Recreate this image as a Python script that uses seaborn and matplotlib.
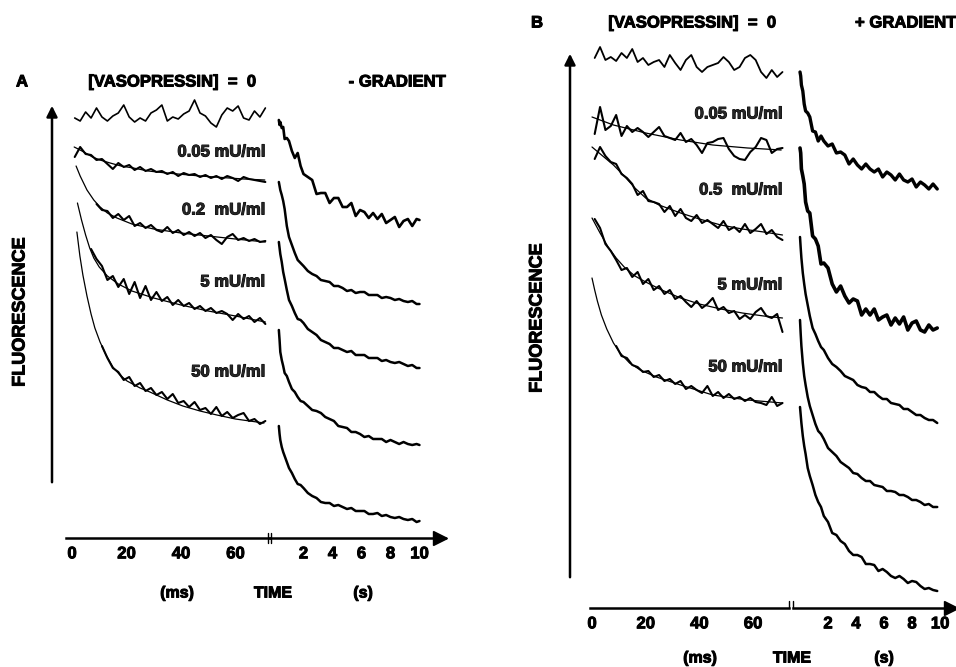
import numpy as np
import matplotlib
matplotlib.use("Agg")
import matplotlib.pyplot as plt
import matplotlib.patheffects as pe
import seaborn as sns

nan = np.nan

# ---------------- time grids ----------------
t_ms = [1, 3, 5, 7, 9, 11, 13, 15, 17, 19, 21, 23, 25, 27, 29, 31, 33, 35,
        37, 39, 41, 43, 45, 47, 49, 51, 53, 55, 57, 59, 61, 63, 65, 67, 69, 71]
tA_s = [0.3, 0.35, 0.4, 0.5, 0.6, 0.7, 0.85, 1.0, 1.2, 1.4, 1.6, 1.8, 2.0, 2.3,
        2.6, 2.9, 3.2, 3.5, 3.8, 4.1, 4.4, 4.7, 5.0, 5.3, 5.6, 5.9, 6.2, 6.5,
        6.8, 7.1, 7.4, 7.7, 8.0, 8.3, 8.6, 8.9, 9.2, 9.5, 9.8, 10.0]
tB_s = [0.0, 0.05, 0.1, 0.2, 0.3, 0.4, 0.55, 0.7, 0.9, 1.1, 1.3, 1.5, 1.7, 2.0,
        2.3, 2.6, 2.9, 3.2, 3.5, 3.8, 4.1, 4.4, 4.7, 5.0, 5.3, 5.6, 5.9, 6.2,
        6.5, 6.8, 7.1, 7.4, 7.7, 8.0, 8.3, 8.6, 8.9, 9.2, 9.5, 9.8]

# ---------------- panel A (- gradient), fluorescence in arb. units ----------------
A_ms_0 = [420, 417, 426, 420, 430, 421, 417, 422, 425, 433, 421, 416, 420, 417, 425, 428, 433, 417,
          421, 419, 424, 427, 438, 425, 422, 415, 411, 423, 430, 427, 432, 420, 418, 427, 421, 430]
A_ms_005 = [381, 391, 384, 383, 378, 379, 374, 369, 375, 371, 373, 368, 371, 367, 369, 366, 367, 364,
            366, 362, 365, 363, 364, 361, 363, 360, 362, 359, 362, 360, 357, 361, 359, 358, 357, 356]
A_ms_02 = [nan, nan, nan, nan, 334, 328, 327, 320, 324, 318, 322, 312, 315, 310, 313, 308, 306, 311,
           305, 308, 303, 306, 302, 305, 300, 303, 298, 294, 301, 304, 298, 300, 297, 299, 296, 297]
A_ms_5 = [nan, nan, nan, 289, 279, 272, 258, 262, 251, 259, 244, 256, 240, 252, 238, 246, 237, 241,
          233, 238, 232, 235, 229, 232, 227, 230, 225, 227, 224, 218, 224, 219, 222, 216, 220, 214]
A_ms_50 = [nan, nan, nan, nan, nan, 192, 180, 170, 166, 158, 161, 152, 155, 147, 150, 143, 146, 139,
           144, 135, 137, 131, 136, 128, 130, 124, 131, 122, 126, 120, 123, 125, 117, 119, 114, 117]

A_fit_005_t = [0.8, 3, 5, 7.5, 10.3, 14, 18, 22.5, 28, 34.7, 41, 47, 55, 63, 70.8]
A_fit_005 = [391, 388, 385, 381, 378, 375, 372, 370, 367, 365, 363.5, 362, 360.5, 359, 358]
A_fit_02_t = [1.5, 3, 5.5, 8, 10.3, 13, 16.5, 22, 30, 40, 50, 60, 71]
A_fit_02 = [372, 362, 348, 338, 331, 325, 320, 314, 309, 305, 302, 299, 296]
A_fit_5_t = [2, 3.5, 5, 6.5, 8, 10, 13, 17, 22, 30, 40, 50, 60, 71]
A_fit_5 = [335, 318, 303, 290, 280, 271, 262, 254, 247, 240, 233, 227, 222, 216]
A_fit_50_t = [1.8, 2.9, 4, 5.5, 7, 8.4, 10.3, 12.5, 15, 17.6, 20.2, 25, 28.6, 35, 40.7, 47, 53.2, 60, 70.5]
A_fit_50 = [306, 282, 263, 242, 224, 210, 196, 183, 171, 163, 157, 150, 146, 138, 132, 127, 123, 119, 115]

A_s_0 = [418, 413, 416, 410, 411, 399, 400, 397, 387, 380, 385, 372, 364, 361, 358, 344, 345, 345, 335, 340,
         340, 331, 331, 335, 322, 328, 326, 320, 325, 319, 324, 315, 318, 321, 311, 317, 319, 312, 319, 318]
A_s_005 = [356, 352, 348, 343, 337, 329, 312, 301, 293, 285, 278, 275, 272, 267, 264, 262, 258, 257, 256, 252,
           252, 250, 247, 248, 245, 246, 246, 243, 243, 243, 240, 241, 240, 238, 239, 237, 236, 237, 234, 234]
A_s_02 = [296, 290, 284, 276, 266, 259, 248, 238, 232, 225, 219, 218, 215, 209, 206, 203, 198, 196, 194, 190,
          190, 188, 186, 187, 183, 183, 183, 180, 180, 180, 177, 178, 176, 175, 176, 174, 172, 173, 170, 170]
A_s_5 = [208, 198, 186, 178, 172, 165, 162, 156, 149, 146, 141, 137, 136, 132, 128, 127, 125, 121, 119, 117,
         112, 111, 110, 106, 106, 104, 101, 102, 99, 99, 99, 96, 98, 96, 94, 96, 94, 93, 94, 93]
A_s_50 = [112, 104, 98, 91, 86, 82, 76, 70, 65, 59, 54, 53, 50, 45, 42, 40, 36, 35, 35, 32,
          33, 31, 29, 30, 27, 27, 27, 24, 24, 25, 22, 23, 21, 20, 21, 19, 18, 19, 16, 17]

# ---------------- panel B (+ gradient) ----------------
B_ms_0 = [550, 561, 548, 551, 547, 555, 550, 559, 546, 550, 543, 546, 548, 541, 553, 545, 538, 548,
          553, 541, 536, 541, 543, 545, 551, 546, 538, 541, 550, 553, 548, 536, 530, 538, 531, 536]
B_ms_005 = [474, 501, 478, 482, 493, 472, 482, 476, 480, 476, 471, 476, 481, 472, 470, 468, 475, 466,
            469, 463, 455, 465, 466, 469, 470, 459, 452, 449, 448, 456, 461, 470, 468, 455, 459, 460]
B_ms_05 = [449, 461, 452, 446, 444, 434, 430, 424, 413, 417, 407, 406, 404, 396, 402, 392, 399, 390,
           387, 393, 385, 388, 384, 380, 387, 378, 381, 376, 384, 375, 379, 384, 374, 378, 371, 368]
B_ms_5 = [389, 380, 364, 357, 348, 338, 340, 331, 336, 324, 329, 318, 322, 314, 318, 309, 312, 306,
          301, 307, 300, 304, 310, 298, 301, 295, 297, 289, 293, 289, 296, 300, 292, 290, 294, 276]
B_ms_50 = [nan, nan, nan, nan, 262, 252, 250, 243, 241, 236, 237, 231, 233, 227, 229, 224, 227, 219,
           222, 218, 215, 222, 212, 216, 210, 214, 209, 211, 207, 210, 206, 205, 203, 211, 202, 205]

B_fit_005_t = [0, 8, 20, 33, 45, 58, 70.5]
B_fit_005 = [491, 483, 475, 468, 463, 460, 458]
B_fit_05_t = [0, 4, 8, 12, 16, 20, 25, 33, 40, 48, 56, 64, 71]
B_fit_05 = [461, 452, 443, 432, 420, 410, 403, 395, 389, 383, 379, 376, 373]
B_fit_5_t = [0, 3, 6, 9, 12, 16, 20, 26, 33, 40, 48, 56, 64, 71]
B_fit_5 = [390, 375, 361, 350, 341, 332, 326, 318, 310, 304, 299, 295, 292, 290]
B_fit_50_t = [0, 1, 2, 3.5, 5.5, 8, 10.5, 14, 18, 24, 33, 45, 58, 71]
B_fit_50 = [330, 318, 307, 293, 279, 265, 255, 245, 238, 231, 223, 213, 208, 205]

B_s_0 = [536, 532, 523, 517, 504, 497, 495, 491, 477, 476, 467, 472, 467, 462, 464, 455, 456, 453, 444, 449,
         443, 439, 444, 439, 436, 439, 431, 436, 433, 428, 434, 428, 426, 429, 421, 426, 423, 419, 424, 419]
B_s_005 = [460, 455, 439, 432, 424, 406, 397, 395, 372, 369, 362, 344, 345, 340, 324, 316, 322, 312, 305, 309,
           307, 293, 299, 293, 299, 288, 291, 293, 283, 290, 284, 291, 278, 285, 287, 278, 276, 283, 278, 280]
B_s_05 = [371, 360, 350, 335, 324, 314, 303, 292, 280, 274, 267, 261, 258, 250, 244, 241, 237, 232, 230, 228,
          223, 221, 220, 216, 216, 212, 209, 209, 205, 204, 203, 199, 199, 196, 193, 193, 190, 188, 188, 185]
B_s_5 = [288, 274, 262, 245, 232, 223, 211, 202, 193, 184, 177, 174, 169, 160, 156, 152, 146, 143, 140, 135,
         134, 130, 127, 127, 123, 122, 121, 117, 117, 116, 113, 113, 111, 108, 108, 106, 103, 104, 101, 101]
B_s_50 = [201, 193, 185, 172, 162, 154, 140, 132, 123, 113, 106, 101, 92, 86, 75, 73, 67, 64, 57, 53,
          53, 51, 44, 44, 43, 37, 39, 36, 32, 30, 32, 29, 25, 27, 26, 22, 19, 20, 18, 17]

ms_ticks = [0, 20, 40, 60]
s_ticks = [2, 4, 6, 8, 10]

A_labels = ["0.05 mU/ml", "0.2  mU/ml", "5 mU/ml", "50 mU/ml"]
A_label_y = [386, 328, 256, 166]
B_labels = ["0.05 mU/ml", "0.5  mU/ml", "5 mU/ml", "50 mU/ml"]
B_label_y = [494, 418, 323, 241]

# ---------------- figure ----------------
sns.set_style("white")
plt.rcParams["font.family"] = ["Liberation Sans", "DejaVu Sans"]
plt.rcParams["font.weight"] = "bold"

W, H = 956, 667
fig = plt.figure(figsize=(W / 100, H / 100), dpi=100)
heavy = [pe.withStroke(linewidth=0.7, foreground="black")]


def px_axes(x0, x1, ytop, ybot):
    # axes placed with pixel edges (y measured from top)
    ax = fig.add_axes([x0 / W, 1 - ybot / H, (x1 - x0) / W, (ybot - ytop) / H])
    ax.set_facecolor("none")
    for s in ["top", "right", "left"]:
        ax.spines[s].set_visible(False)
    ax.spines["bottom"].set_linewidth(1.8)
    ax.spines["bottom"].set_color("black")
    ax.tick_params(axis="x", direction="in", length=4, width=1.2, pad=6,
                   labelsize=12, colors="black")
    ax.set_yticks([])
    ax.set_xlabel("")
    ax.set_ylabel("")
    return ax


def trace(ax, t, v, lw):
    sns.lineplot(x=t, y=v, ax=ax, color="black", lw=lw, estimator=None,
                 sort=False, legend=False)


def fig_text(x, y, s, **kw):
    fig.text(x / W, 1 - y / H, s, fontweight="bold", color="black",
             path_effects=heavy, **kw)


# ----- panel A -----
axA_ms = px_axes(66, 270, 98, 538)
axA_s = px_axes(270, 445, 98, 538)
for ax in (axA_ms, axA_s):
    ax.set_ylim(0, 440)
axA_ms.set_xlim(-2.2, 72.7)
axA_s.set_xlim(-0.31, 11.76)

trace(axA_ms, t_ms, A_ms_0, 1.2)
for tt, vv in [(A_fit_005_t, A_fit_005), (A_fit_02_t, A_fit_02),
               (A_fit_5_t, A_fit_5), (A_fit_50_t, A_fit_50)]:
    trace(axA_ms, tt, vv, 0.9)
for vv in [A_ms_005, A_ms_02, A_ms_5, A_ms_50]:
    trace(axA_ms, t_ms, vv, 1.5)
trace(axA_s, tA_s, A_s_0, 1.9)
for vv in [A_s_005, A_s_02, A_s_5, A_s_50]:
    trace(axA_s, tA_s, vv, 1.8)
for lab, yy in zip(A_labels, A_label_y):
    axA_ms.text(70.8, yy, lab, ha="right", va="center", fontsize=12,
                fontweight="bold", path_effects=heavy)

# ----- panel B -----
axB_ms = px_axes(590, 789, 40, 608)
axB_s = px_axes(793, 956, 40, 608)
for ax in (axB_ms, axB_s):
    ax.set_ylim(0, 568)
axB_ms.set_xlim(-0.745, 73.42)
axB_s.set_xlim(-0.5, 11.14)

trace(axB_ms, t_ms, B_ms_0, 1.3)
for tt, vv in [(B_fit_005_t, B_fit_005), (B_fit_05_t, B_fit_05),
               (B_fit_5_t, B_fit_5), (B_fit_50_t, B_fit_50)]:
    trace(axB_ms, tt, vv, 0.9)
for vv in [B_ms_005, B_ms_05, B_ms_5, B_ms_50]:
    trace(axB_ms, t_ms, vv, 1.5)
trace(axB_s, tB_s, B_s_0, 2.4)
trace(axB_s, tB_s, B_s_005, 2.6)
for vv in [B_s_05, B_s_5, B_s_50]:
    trace(axB_s, tB_s, vv, 1.8)
for lab, yy in zip(B_labels, B_label_y):
    axB_ms.text(70.8, yy, lab, ha="right", va="center", fontsize=12,
                fontweight="bold", path_effects=heavy)

# ticks
for ax in (axA_ms, axB_ms):
    ax.set_xticks(ms_ticks)
    ax.set_xticklabels([str(v) for v in ms_ticks], fontweight="bold", path_effects=heavy)
for ax in (axA_s, axB_s):
    ax.set_xticks(s_ticks)
    ax.set_xticklabels([str(v) for v in s_ticks], fontweight="bold", path_effects=heavy)

# axis arrows and breaks
axA_s.plot([0.972], [0], marker=">", ms=10, color="black", transform=axA_s.transAxes, clip_on=False)
axB_s.plot([0.97], [0], marker=">", ms=10, color="black", transform=axB_s.transAxes, clip_on=False)
for ax, xf in [(axA_ms, 0.99), (axA_s, 0.008)]:
    ax.plot([xf, xf], [-0.012, 0.012], color="black", lw=1.0, transform=ax.transAxes, clip_on=False)
for ax, xf in [(axB_ms, 1.0), (axB_s, 0.0)]:
    ax.plot([xf, xf], [0, 0.012], color="black", lw=1.0, transform=ax.transAxes, clip_on=False)

for x, ytop, ybot in [(52, 103, 485), (570, 51, 580)]:
    fig.add_artist(matplotlib.patches.FancyArrowPatch(
        (x / W, 1 - ybot / H), (x / W, 1 - ytop / H), transform=fig.transFigure,
        arrowstyle="-|>", mutation_scale=16, lw=1.8, color="black"))

# texts
fig_text(22, 82, "A", ha="center", va="center", fontsize=12)
fig_text(172, 82, "[VASOPRESSIN]  =  0", ha="center", va="center", fontsize=12)
fig_text(397, 82, "- GRADIENT", ha="center", va="center", fontsize=12)
fig_text(20, 312, "FLUORESCENCE", ha="center", va="center", rotation=90, fontsize=13)
fig_text(177, 593, "(ms)", ha="center", va="center", fontsize=11.5)
fig_text(273, 593, "TIME", ha="center", va="center", fontsize=11.5)
fig_text(363, 593, "(s)", ha="center", va="center", fontsize=11.5)

fig_text(537, 23, "B", ha="center", va="center", fontsize=12)
fig_text(692, 23, "[VASOPRESSIN]  =  0", ha="center", va="center", fontsize=12)
fig_text(855, 23, "+ GRADIENT", ha="left", va="center", fontsize=12)
fig_text(537, 318, "FLUORESCENCE", ha="center", va="center", rotation=90, fontsize=13)
fig_text(700, 658, "(ms)", ha="center", va="center", fontsize=11.5)
fig_text(792, 658, "TIME", ha="center", va="center", fontsize=11.5)
fig_text(884, 658, "(s)", ha="center", va="center", fontsize=11.5)

fig.savefig("out.png", dpi=100)
